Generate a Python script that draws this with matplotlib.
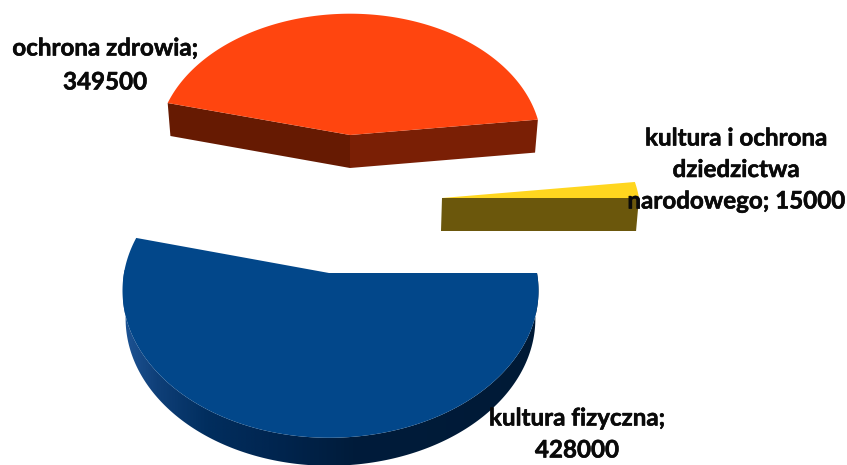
import numpy as np
import matplotlib
matplotlib.use("Agg")
import matplotlib.pyplot as plt
import matplotlib.patheffects as pe
from matplotlib.colors import LinearSegmentedColormap
from matplotlib.patches import Polygon

categories = ["kultura fizyczna", "ochrona zdrowia", "kultura i ochrona dziedzictwa narodowego"]
values = [428000, 349500, 15000]
label_lines = [
    ["kultura fizyczna;", "428000"],
    ["ochrona zdrowia;", "349500"],
    ["kultura i ochrona", "dziedzictwa", "narodowego; 15000"],
]

top_colors = ["#02478a", "#ff450f", "#ffd61f"]
# apex x, apex y, radius left, radius right, radius y, depth, tilt
slices = [(329, 273, 205, 208, 145, 28, 0.12),
          (350, 135, 192, 191, 131, 33, 0.08),
          (442, 198, 198, 197, 137, 33, 0.12)]
label_pos = [(577, 418, 32), (105, 48, 34), (736, 138, 31.5)]
shrink = 0.985

blue_wall = LinearSegmentedColormap.from_list(
    "wall", [(0, "#1d5494"), (0.08, "#0f3f78"), (0.2, "#012e5e"), (0.35, "#012651"), (0.55, "#001c3b"), (1, "#001a36")])


def rim(a, s, drop=0.0, r=1.0):
    # a is clockwise on screen, the front of the pie is nearer to the viewer
    x0, y0, rl, rr, ry, d, tilt = s
    u, v = np.cos(a), np.sin(a)
    w = 1 - tilt * v
    rx = np.where(u < 0, rl, rr)
    return np.column_stack([x0 + r * rx * u / w, y0 + drop + ry * v / w])


fig = plt.figure(figsize=(8.47, 4.65), dpi=100)
ax = fig.add_axes([0, 0, 1, 1])

edges = np.cumsum([0] + values) / sum(values) * 2 * np.pi

# blue slice: curved wall with a shading along x
s = slices[0]
t = np.linspace(edges[0], edges[1], 300)
up = rim(t, s)
lo = rim(t, s, s[5], shrink)
wall = Polygon(np.vstack([up, lo[::-1]]), transform=ax.transData, fc="none", lw=0)
ax.add_patch(wall)
grad = np.linspace(0, 1, 415).reshape(1, -1)
im = ax.imshow(grad, cmap=blue_wall, extent=(123, 540, 465, 270), aspect="auto", interpolation="bilinear")
im.set_clip_path(wall)

# red slice: two flat cut faces
s = slices[1]
apex = np.array(s[:2], dtype=float)
for ang, col in [(edges[1], "#661a02"), (edges[2], "#7a1f05")]:
    end = rim(np.array([ang]), s)[0]
    end_lo = rim(np.array([ang]), s, s[5], shrink)[0]
    ax.fill([apex[0], end[0], end_lo[0], apex[0]], [apex[1], end[1], end_lo[1], apex[1] + s[5]],
            color=col, lw=0)

# yellow slice: front cut face
s = slices[2]
apex = np.array(s[:2], dtype=float)
end = rim(np.array([edges[3]]), s)[0]
end_lo = rim(np.array([edges[3]]), s, s[5], shrink)[0]
ax.fill([apex[0], end[0], end_lo[0], apex[0] - 1], [apex[1], end[1], end_lo[1], apex[1] + s[5]],
        color="#6b570c", lw=0)

# top faces
for i, s in enumerate(slices):
    t = np.linspace(edges[i], edges[i + 1], 300)
    pts = np.vstack([s[:2], rim(t, s)])
    ax.fill(pts[:, 0], pts[:, 1], color=top_colors[i], lw=0)

for lines, (x, y, step) in zip(label_lines, label_pos):
    for j, line in enumerate(lines):
        ax.text(x, y + j * step, line, family="Lato", fontweight="bold", fontsize=17.4,
                color="#0a0a0a", ha="center", va="center",
                path_effects=[pe.withStroke(linewidth=0.4, foreground="#0a0a0a")])

ax.set_xlim(0, 847)
ax.set_ylim(465, 0)
ax.axis("off")

plt.savefig("out.png", dpi=100)
